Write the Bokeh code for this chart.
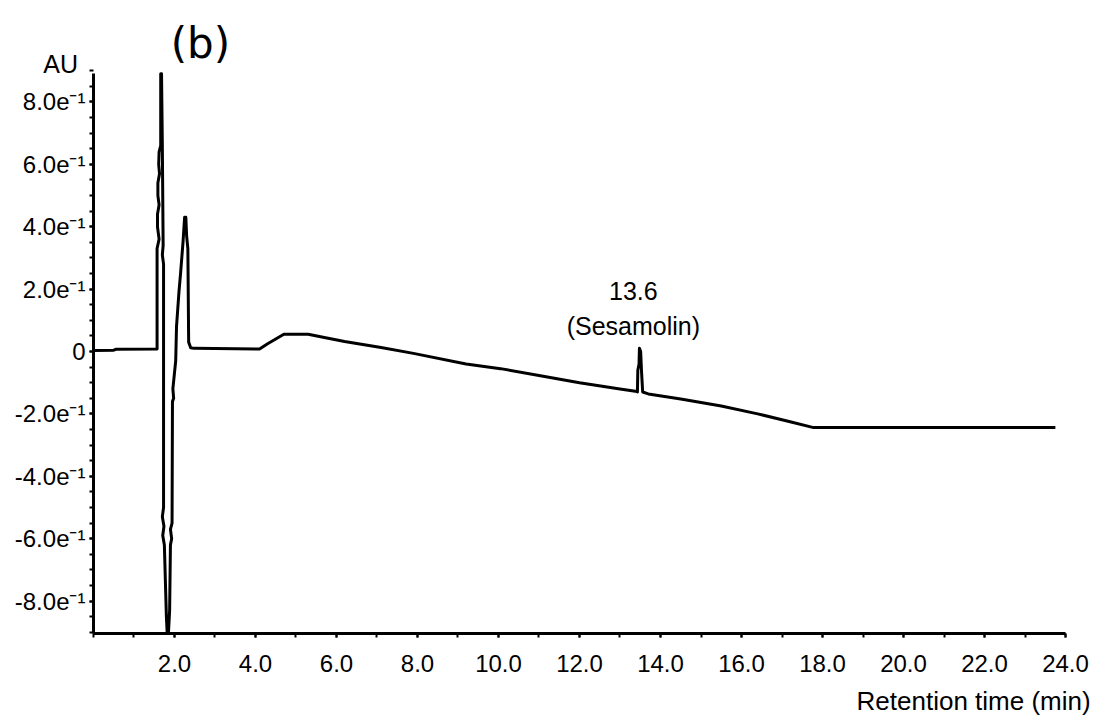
from bokeh.plotting import figure
from bokeh.models import FixedTicker, PrintfTickFormatter, Label, Range1d
from bokeh.embed import file_html
from bokeh.resources import INLINE

# ---- data (time in min, absorbance in AU) ----
time_min = [
    0.00, 0.50, 0.55, 1.57,
    1.57, 1.62, 1.58, 1.58, 1.62, 1.59, 1.59, 1.63, 1.61, 1.62, 1.66, 1.66,
    1.68, 1.70, 1.72, 1.70, 1.73, 1.73, 1.70, 1.74, 1.71, 1.75, 1.80, 1.82,
    1.85, 1.88, 1.90, 1.93, 1.90, 1.94, 1.95, 1.98, 1.96, 2.03, 2.05, 2.11,
    2.15, 2.21, 2.25, 2.28, 2.30, 2.33, 2.35, 2.40, 2.48,
    4.10, 4.30, 4.70, 5.30, 5.70, 6.20, 7.10, 7.90, 9.20, 10.05, 11.00,
    12.00, 13.00, 13.42,
    13.43, 13.44, 13.47, 13.48, 13.51, 13.53, 13.56,
    13.70, 14.50, 15.50, 16.40, 17.20, 17.78, 20.00, 23.75,
]
absorbance = [
    0.003, 0.004, 0.007, 0.008,
    0.33, 0.36, 0.40, 0.44, 0.47, 0.50, 0.54, 0.57, 0.60, 0.64, 0.66, 0.89,
    0.89, 0.66, 0.34, 0.31, 0.28, -0.50, -0.53, -0.56, -0.59, -0.62, -0.85, -0.904,
    -0.904, -0.83, -0.62, -0.60, -0.57, -0.55, -0.16, -0.15, -0.12, -0.03, 0.08, 0.19,
    0.25, 0.35, 0.43, 0.43, 0.37, 0.33, 0.03, 0.012, 0.010,
    0.008, 0.025, 0.055, 0.055, 0.045, 0.032, 0.013, -0.006, -0.040, -0.055, -0.077,
    -0.100, -0.120, -0.128,
    -0.130, -0.060, -0.040, 0.010, 0.000, -0.060, -0.130,
    -0.136, -0.152, -0.175, -0.200, -0.225, -0.244, -0.244, -0.244,
]

x_axis_bounds = (0, 24)
y_axis_bounds = (-0.904, 0.891)
x_major_ticks = [2, 4, 6, 8, 10, 12, 14, 16, 18, 20, 22, 24]
x_minor_ticks = list(range(0, 25))
y_major_ticks = [-0.8, -0.6, -0.4, -0.2, 0, 0.2, 0.4, 0.6, 0.8]
y_tick_labels = ["-8.0e\u207b\u00b9", "-6.0e\u207b\u00b9", "-4.0e\u207b\u00b9", "-2.0e\u207b\u00b9",
                 "0", "2.0e\u207b\u00b9", "4.0e\u207b\u00b9", "6.0e\u207b\u00b9", "8.0e\u207b\u00b9"]
y_minor_ticks = [round(-0.9 + 0.05 * i, 2) for i in range(37)]

peak_label_time = "13.6"
peak_label_name = "(Sesamolin)"
panel_label = "(b)"
x_title = "Retention time (min)"
y_title = "AU"

FONT = "Liberation Sans"

# frame covers the whole canvas; axes are pinned inside it with fixed_location
p = figure(width=1100, height=716, output_backend="svg", toolbar_location=None,
           x_range=Range1d(-2.296, 24.864), y_range=Range1d(-1.170, 1.125),
           min_border=0)
p.outline_line_color = None
p.xgrid.visible = False
p.ygrid.visible = False
p.background_fill_color = "white"
p.border_fill_color = "white"

p.line(time_min, absorbance, line_color="black", line_width=3, line_join="round")

for ax in (p.xaxis[0], p.yaxis[0]):
    ax.axis_line_width = 3
    ax.axis_line_color = "black"
    ax.major_tick_line_color = "black"
    ax.minor_tick_line_color = "black"
    ax.major_tick_line_width = 2
    ax.minor_tick_line_width = 2
    ax.major_tick_out = 4
    ax.major_tick_in = 0
    ax.minor_tick_out = 4
    ax.minor_tick_in = 0
    ax.major_label_text_font = FONT
    ax.major_label_text_font_size = "24px"
    ax.major_label_text_color = "black"

p.xaxis[0].fixed_location = y_axis_bounds[0]
p.xaxis[0].bounds = x_axis_bounds
p.xaxis[0].ticker = FixedTicker(ticks=x_major_ticks, minor_ticks=x_minor_ticks)
p.xaxis[0].formatter = PrintfTickFormatter(format="%.1f")
p.xaxis[0].major_label_standoff = 17

p.yaxis[0].fixed_location = x_axis_bounds[0]
p.yaxis[0].bounds = y_axis_bounds
p.yaxis[0].ticker = FixedTicker(ticks=y_major_ticks, minor_ticks=y_minor_ticks)
p.yaxis[0].major_label_overrides = {v: s for v, s in zip(y_major_ticks, y_tick_labels)}
p.yaxis[0].major_label_standoff = 4

p.add_layout(Label(x=13.33, y=0.195, text=peak_label_time, text_font=FONT, text_font_size="25px",
                   text_align="center", text_baseline="middle", text_color="black"))
p.add_layout(Label(x=13.33, y=0.083, text=peak_label_name, text_font=FONT, text_font_size="25px",
                   text_align="center", text_baseline="middle", text_color="black"))
p.add_layout(Label(x=-0.81, y=0.92, text=y_title, text_font=FONT, text_font_size="25px",
                   text_align="center", text_baseline="middle", text_color="black"))
p.add_layout(Label(x=24.62, y=-1.119, text=x_title, text_font=FONT, text_font_size="26px",
                   text_align="right", text_baseline="middle", text_color="black"))
p.add_layout(Label(x=2.64, y=0.987, text=panel_label, text_font="DejaVu Sans", text_font_size="42px",
                   text_align="center", text_baseline="middle", text_color="black"))

open("out.html", "w").write(file_html(p, INLINE))
